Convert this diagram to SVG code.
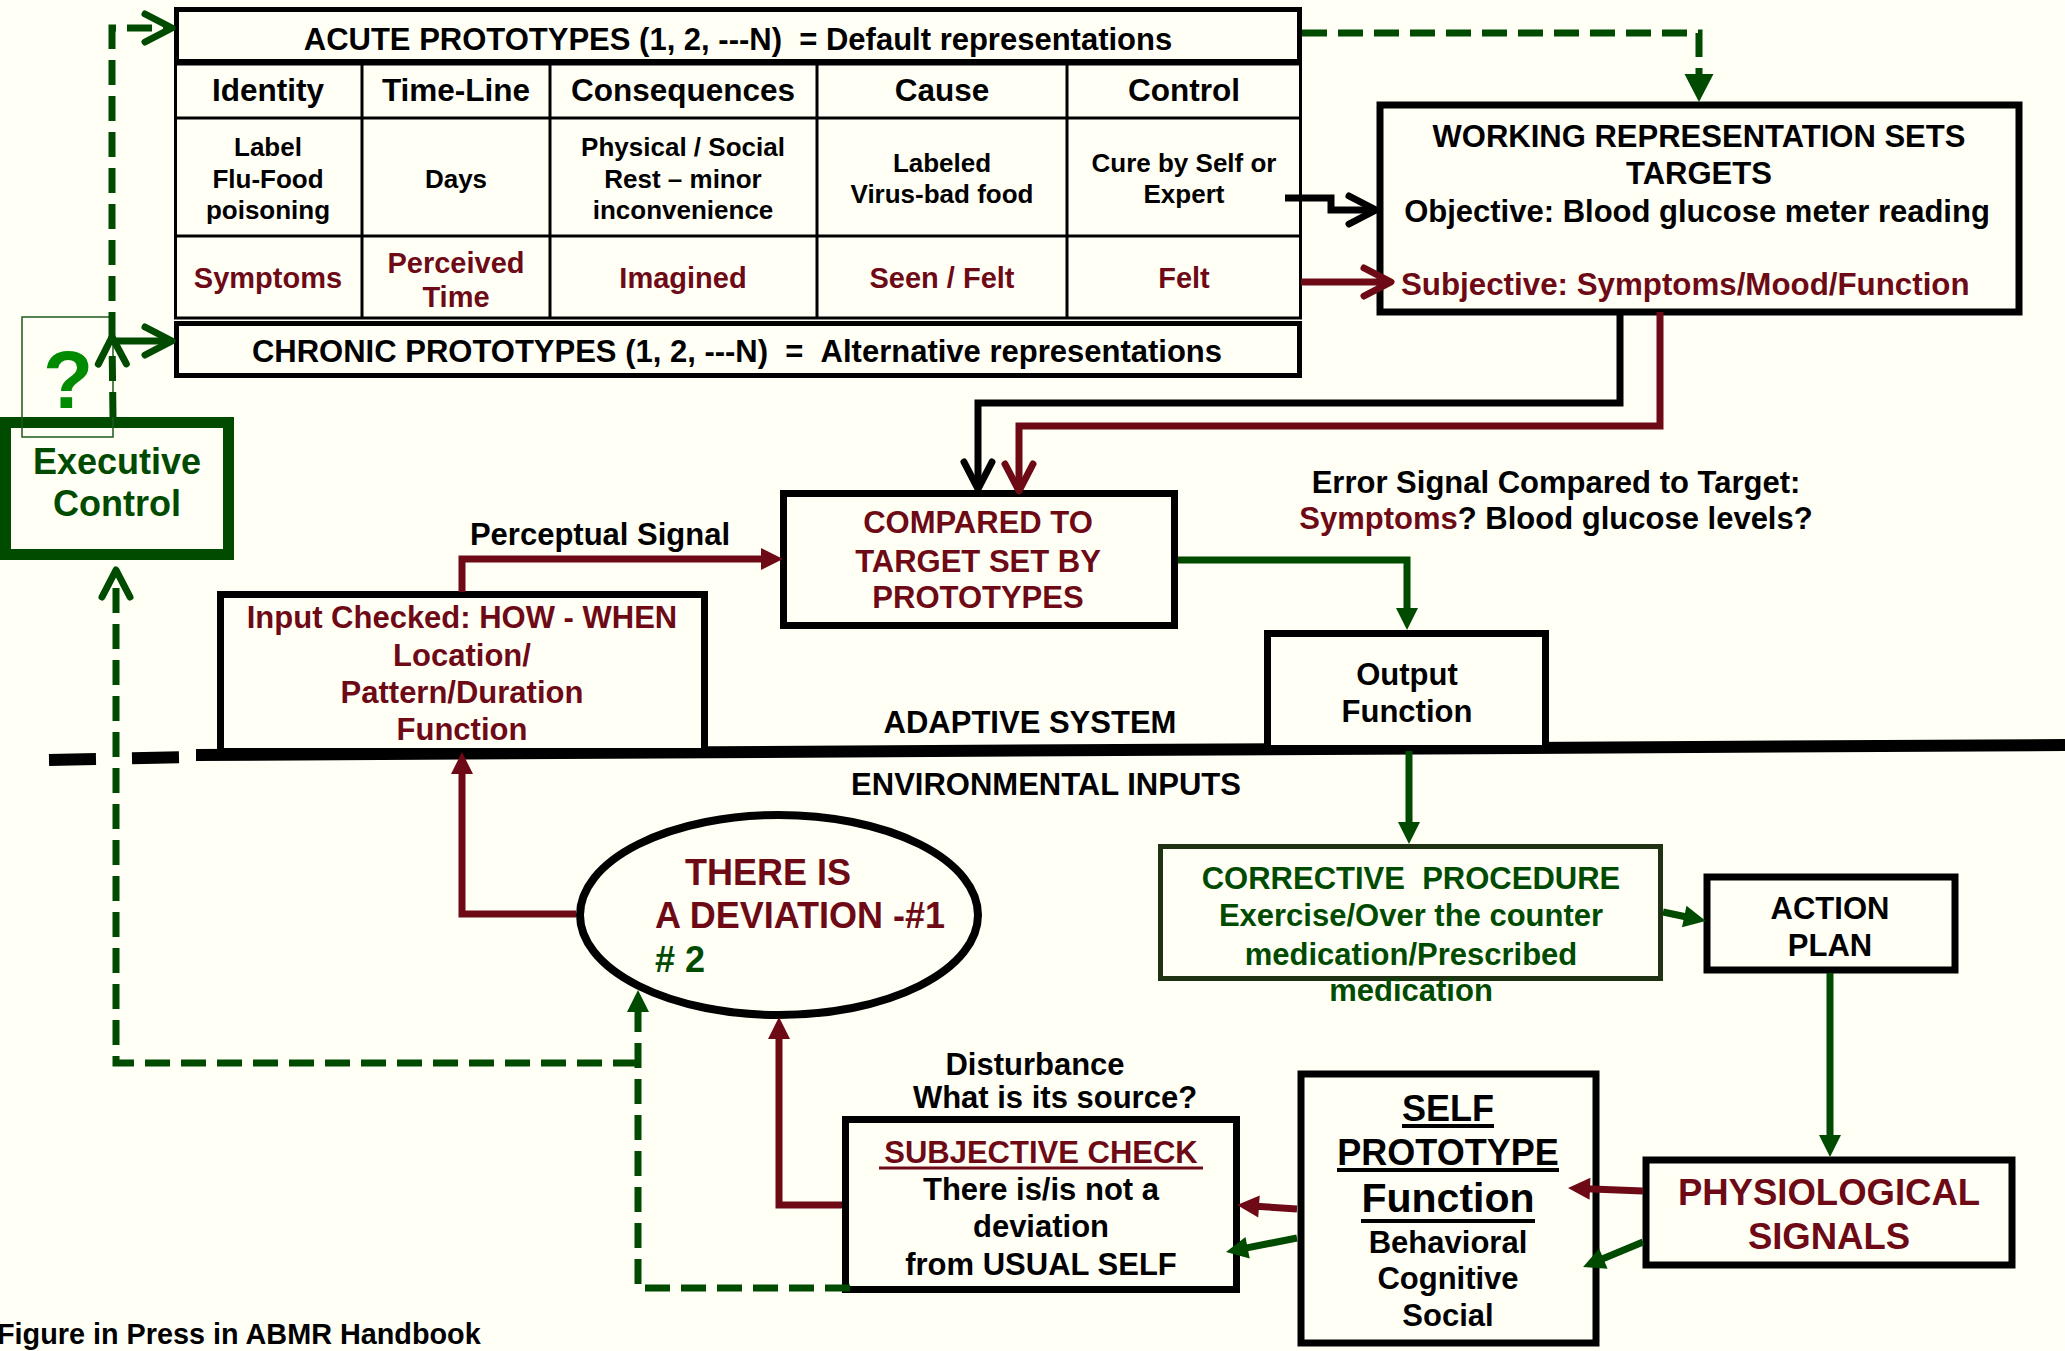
<svg xmlns="http://www.w3.org/2000/svg" width="2065" height="1351" viewBox="0 0 2065 1351">
<defs>
<style>
text{font-family:"Liberation Sans",Arial,Helvetica,sans-serif;font-weight:bold;font-size:31px;fill:#000}
.c{text-anchor:middle}
.r{fill:#6E0A16}
.g{fill:#004B00}
.f26{font-size:26px}
.f29{font-size:29px}
.fh{font-size:31.5px}
.f36{font-size:36px}
.box{fill:#FFFFF6;stroke:#000;stroke-width:7}
.cell{fill:none;stroke:#000;stroke-width:3}
.ln{fill:none;stroke-width:7;stroke-linejoin:miter}
.lk{stroke:#000}
.lr{stroke:#6E0A16}
.lg{stroke:#004B00}
.dash{stroke-dasharray:25 11}
.chev{fill:none;stroke-width:7;stroke-linecap:round;stroke-linejoin:round}
.ul{stroke-width:4}
</style>
<marker id="chK" markerUnits="userSpaceOnUse" markerWidth="30" markerHeight="30" refX="28" refY="15" orient="auto" overflow="visible"><path class="chev" stroke="#000" d="M1,1 L28,15 L1,29"/></marker>
<marker id="chR" markerUnits="userSpaceOnUse" markerWidth="30" markerHeight="30" refX="28" refY="15" orient="auto" overflow="visible"><path class="chev" stroke="#6E0A16" d="M1,1 L28,15 L1,29"/></marker>
<marker id="chG" markerUnits="userSpaceOnUse" markerWidth="30" markerHeight="30" refX="28" refY="15" orient="auto" overflow="visible"><path class="chev" stroke="#004B00" d="M1,1 L28,15 L1,29"/></marker>
<marker id="trR" markerUnits="userSpaceOnUse" markerWidth="22" markerHeight="24" refX="11" refY="12" orient="auto" overflow="visible"><path fill="#6E0A16" d="M0,1 L22,12 L0,23 Z"/></marker>
<marker id="trG" markerUnits="userSpaceOnUse" markerWidth="22" markerHeight="24" refX="11" refY="12" orient="auto" overflow="visible"><path fill="#004B00" d="M0,1 L22,12 L0,23 Z"/></marker>
<marker id="trGL" markerUnits="userSpaceOnUse" markerWidth="28" markerHeight="30" refX="14" refY="15" orient="auto" overflow="visible"><path fill="#004B00" d="M0,0.5 L28,15 L0,29.5 Z"/></marker>
</defs>

<rect width="2065" height="1351" fill="#FFFFF6"/>

<!-- adaptive system / environment boundary -->
<g id="boundary">
  <line x1="49" y1="760" x2="196" y2="757" stroke="#000" stroke-width="12" stroke-dasharray="47 36 47 40"/>
  <line x1="196" y1="755" x2="2065" y2="745" stroke="#000" stroke-width="12"/>
</g>

<!-- prototype table -->
<g id="acute">
  <rect x="176.5" y="9.5" width="1123" height="52" fill="none" stroke="#000" stroke-width="5"/>
  <text class="c" x="738" y="50">ACUTE PROTOTYPES (1, 2, ---N)&#160; = Default representations</text>
</g>
<g id="table">
  <rect class="cell" x="175.5" y="64" width="1125" height="254"/>
  <path class="cell" d="M362,64 V318 M550,64 V318 M817,64 V318 M1067,64 V318 M175,118 H1301 M175,236 H1301"/>
  <text class="c fh" x="268" y="101">Identity</text>
  <text class="c fh" x="456" y="101">Time-Line</text>
  <text class="c fh" x="683" y="101">Consequences</text>
  <text class="c fh" x="942" y="101">Cause</text>
  <text class="c fh" x="1184" y="101">Control</text>
  <text class="c f26" x="268" y="156">Label</text>
  <text class="c f26" x="268" y="188">Flu-Food</text>
  <text class="c f26" x="268" y="219">poisoning</text>
  <text class="c f26" x="456" y="188">Days</text>
  <text class="c f26" x="683" y="156">Physical / Social</text>
  <text class="c f26" x="683" y="188">Rest – minor</text>
  <text class="c f26" x="683" y="219">inconvenience</text>
  <text class="c f26" x="942" y="172">Labeled</text>
  <text class="c f26" x="942" y="203">Virus-bad food</text>
  <text class="c f26" x="1184" y="172">Cure by Self or</text>
  <text class="c f26" x="1184" y="203">Expert</text>
  <text class="c f29 r" x="268" y="288">Symptoms</text>
  <text class="c f29 r" x="456" y="273">Perceived</text>
  <text class="c f29 r" x="456" y="307">Time</text>
  <text class="c f29 r" x="683" y="288">Imagined</text>
  <text class="c f29 r" x="942" y="288">Seen / Felt</text>
  <text class="c f29 r" x="1184" y="288">Felt</text>
</g>
<g id="chronic">
  <rect x="176.5" y="323.5" width="1123" height="52" fill="none" stroke="#000" stroke-width="5"/>
  <text class="c" x="737" y="362">CHRONIC PROTOTYPES (1, 2, ---N)&#160; = &#160;Alternative representations</text>
</g>

<g id="working">
  <rect class="box" x="1380" y="105" width="639" height="207" stroke-width="6"/>
  <text class="c" x="1699" y="147">WORKING REPRESENTATION SETS</text>
  <text class="c" x="1699" y="184">TARGETS</text>
  <text class="c" x="1697" y="222">Objective: Blood glucose meter reading</text>
  <text class="r" x="1401" y="295" style="font-size:31.3px">Subjective: Symptoms/Mood/Function</text>
</g>

<g id="executive">
  <rect x="5.5" y="422.5" width="223" height="132" fill="none" stroke="#004B00" stroke-width="11"/>
  <text class="c g f36" x="117" y="474">Executive</text>
  <text class="c g f36" x="117" y="516">Control</text>
</g>

<g id="query">
  <rect x="22" y="317" width="91" height="120" fill="none" stroke="#1E5A1E" stroke-width="1.5"/>
  <text class="c" x="68" y="408" style="font-size:82px;fill:#008B00">?</text>
</g>

<g id="compared">
  <rect class="box" x="783.5" y="493.5" width="391" height="132"/>
  <text class="c r" x="978" y="533">COMPARED TO</text>
  <text class="c r" x="978" y="572">TARGET SET BY</text>
  <text class="c r" x="978" y="608">PROTOTYPES</text>
</g>

<g id="input">
  <rect class="box" x="220.5" y="594.5" width="484" height="157"/>
  <text class="c r" x="462" y="628">Input Checked: HOW - WHEN</text>
  <text class="c r" x="462" y="666">Location/</text>
  <text class="c r" x="462" y="703">Pattern/Duration</text>
  <text class="c r" x="462" y="740">Function</text>
</g>

<g id="output">
  <rect class="box" x="1267.5" y="633.5" width="278" height="115"/>
  <text class="c" x="1407" y="685">Output</text>
  <text class="c" x="1407" y="722">Function</text>
</g>

<g id="deviation">
  <ellipse cx="779" cy="915" rx="199" ry="100" fill="#FFFFF6" stroke="#000" stroke-width="8"/>
  <text class="f36 r" x="685" y="885">THERE IS</text>
  <text class="f36 r" x="655" y="928">A DEVIATION -#1</text>
  <text class="f36 g" x="655" y="972"># 2</text>
</g>

<g id="corrective">
  <rect x="1160.5" y="846.5" width="500" height="132" fill="none" stroke="#1F3314" stroke-width="5"/>
  <text class="c g" x="1411" y="889">CORRECTIVE&#160; PROCEDURE</text>
  <text class="c g" x="1411" y="926">Exercise/Over the counter</text>
  <text class="c g" x="1411" y="965">medication/Prescribed</text>
  <text class="c g" x="1411" y="1001">medication</text>
</g>

<g id="action">
  <rect class="box" x="1707" y="877" width="248" height="93" stroke-width="6"/>
  <text class="c" x="1830" y="919">ACTION</text>
  <text class="c" x="1830" y="956">PLAN</text>
</g>

<g id="physiological">
  <rect class="box" x="1646" y="1160" width="366" height="105" stroke-width="6"/>
  <text class="c r" x="1829" y="1205" style="font-size:36.5px">PHYSIOLOGICAL</text>
  <text class="c r" x="1829" y="1249" style="font-size:36.5px">SIGNALS</text>
</g>

<g id="self">
  <rect class="box" x="1301" y="1074" width="295" height="269" stroke-width="8"/>
  <text class="c f36" x="1448" y="1121">SELF</text>
  <text class="c f36" x="1448" y="1165">PROTOTYPE</text>
  <text class="c" x="1448" y="1212" style="font-size:41px">Function</text>
  <path class="ul" stroke="#000" d="M1402,1126 H1494 M1337,1170 H1559 M1361,1221 H1535"/>
  <text class="c" x="1448" y="1253">Behavioral</text>
  <text class="c" x="1448" y="1289">Cognitive</text>
  <text class="c" x="1448" y="1326">Social</text>
</g>

<g id="subjective">
  <rect class="box" x="845.5" y="1119.5" width="391" height="170"/>
  <text class="c r" x="1041" y="1163">SUBJECTIVE CHECK</text>
  <path stroke="#6E0A16" stroke-width="3" d="M879,1168 H1203"/>
  <text class="c" x="1041" y="1200">There is/is not a</text>
  <text class="c" x="1041" y="1237">deviation</text>
  <text class="c" x="1041" y="1275">from USUAL SELF</text>
</g>

<!-- free labels -->
<g id="labels">
  <text class="c" x="600" y="545">Perceptual Signal</text>
  <text class="c" x="1556" y="493">Error Signal Compared to Target:</text>
  <text class="c" x="1556" y="529"><tspan class="r">Symptoms</tspan>? Blood glucose levels?</text>
  <text class="c" x="1030" y="733">ADAPTIVE SYSTEM</text>
  <text class="c" x="1046" y="795">ENVIRONMENTAL INPUTS</text>
  <text class="c" x="1035" y="1075">Disturbance</text>
  <text class="c" x="1055" y="1108">What is its source?</text>
  <text x="-3" y="1344" style="font-size:28.8px">Figure in Press in ABMR Handbook</text>
</g>

<g id="connectors">
  <!-- executive control feedback to prototypes -->
  <path class="ln lg dash" d="M113,417 L112,337" marker-end="url(#chG)"/>
  <path class="ln lg dash" d="M112,337 V28 H172" marker-end="url(#chG)"/>
  <path class="ln lg" d="M112,341 H172" marker-end="url(#chG)"/>
  <!-- acute prototypes to working representation -->
  <path class="ln lg dash" d="M1302,33 H1699 V88" marker-end="url(#trGL)"/>
  <!-- table rows to working representation -->
  <path class="ln lk" d="M1285,198 H1331 V210 H1376" marker-end="url(#chK)"/>
  <path class="ln lr" d="M1301,282 H1391" marker-end="url(#chR)"/>
  <!-- working representation to comparator -->
  <path class="ln lk" d="M1620,312 V403 H978 V489" marker-end="url(#chK)"/>
  <path class="ln lr" d="M1660,312 V426 H1019 V491" marker-end="url(#chR)"/>
  <!-- perceptual signal -->
  <path class="ln lr" d="M462,592 V559 H772" marker-end="url(#trR)"/>
  <!-- comparator to output -->
  <path class="ln lg" d="M1178,560 H1407 V619" marker-end="url(#trG)"/>
  <path class="ln lg" d="M1409,751 V833" marker-end="url(#trG)"/>
  <path class="ln lg" stroke-width="8" d="M1663,912 L1695,918.7" marker-end="url(#trG)"/>
  <path class="ln lg" d="M1830,973 V1146" marker-end="url(#trG)"/>
  <!-- physiological signals to self prototype -->
  <path class="ln lr" stroke-width="8" d="M1643,1191 L1579,1188.4" marker-end="url(#trR)"/>
  <path class="ln lg" d="M1643,1242 L1593.2,1262.8" marker-end="url(#trG)"/>
  <!-- self prototype to subjective check -->
  <path class="ln lr" stroke-width="8" d="M1297,1209 L1248,1205.7" marker-end="url(#trR)"/>
  <path class="ln lg" d="M1297,1238 L1236.8,1249.9" marker-end="url(#trG)"/>
  <!-- subjective check to deviation -->
  <path class="ln lr" d="M842,1205 H779 V1028" marker-end="url(#trR)"/>
  <!-- deviation to input check -->
  <path class="ln lr" d="M576,914 H462 V763" marker-end="url(#trR)"/>
  <!-- dashed loop to deviation and executive control -->
  <path class="ln lg dash" d="M850,1288 H638 V1001" marker-end="url(#trG)"/>
  <path class="ln lg dash" d="M638,1063 H116 V570" marker-end="url(#chG)"/>
</g>
</svg>
